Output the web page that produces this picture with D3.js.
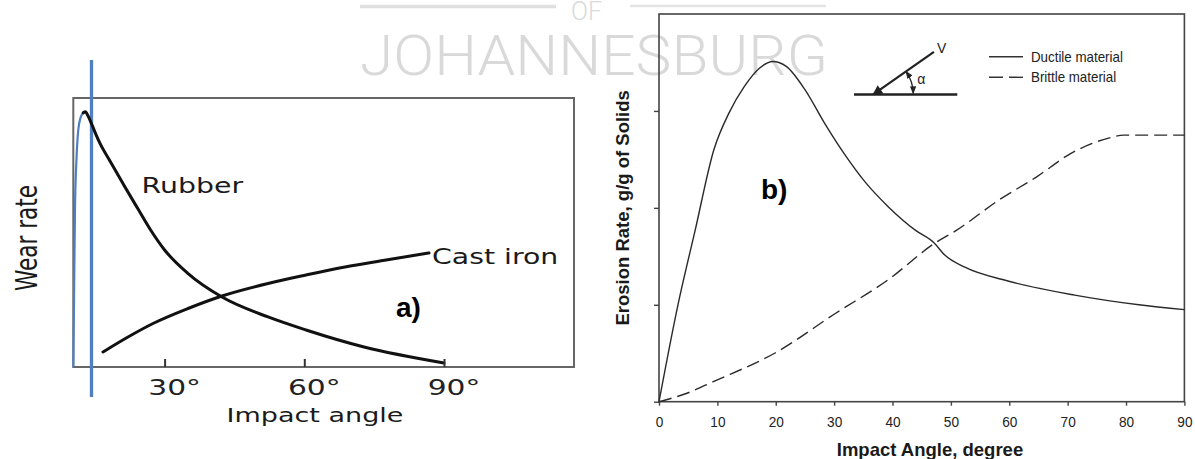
<!DOCTYPE html>
<html>
<head>
<meta charset="utf-8">
<script src="https://cdn.jsdelivr.net/npm/d3@7"></script>
<style>
  body { margin: 0; background: #fff; }
  svg { display: block; }
</style>
</head>
<body>
<svg id="chart" width="1195" height="459"></svg>
<script>
// ---------- Panel a: wear rate vs impact angle (arbitrary wear units, 0-100) ----------
const rubberAngle = [10.4, 10.55, 10.75, 11.1, 11.45, 12.0, 12.54, 13.0, 13.27, 13.76, 14.41, 15.27, 16.13, 18.27, 21.49, 24.3, 26.86, 30, 34.92, 42.33, 52.21, 60.37, 72.83, 90];
const rubberWear  = [0, 24.8, 58.3, 78.1, 88.0, 92.9, 94.5, 94.9, 94.3, 92.6, 90.0, 86.4, 83.1, 76.6, 66.9, 58.7, 51.3, 43.5, 34.9, 26.0, 18.6, 13.75, 7.43, 1.49];
const rubberPeakIndex = 7;
const castIronAngle = [16.77, 22.14, 27.51, 35.03, 42.33, 52.21, 60.37, 68.75, 76.91, 86.79];
const castIronWear  = [5.58, 11.15, 16.17, 21.75, 26.39, 31.04, 34.2, 37.2, 39.6, 42.4];
const angleTicksA = [30, 60, 90];
const markerAngle = 14.3;

// ---------- Panel b: erosion rate vs impact angle ----------
const ductileAngle = [0, 3.25, 6.2, 9.4, 12.0, 14.6, 17.2, 19.5, 21.8, 25.0, 28.3, 31.6, 35.4, 39.3, 43.9, 47.1, 49.0, 52.3, 60.1, 71.2, 82.2, 90];
const ductileRate  = [0, 1.0, 1.77, 2.60, 2.98, 3.25, 3.44, 3.51, 3.46, 3.22, 2.88, 2.57, 2.26, 2.01, 1.77, 1.64, 1.51, 1.39, 1.24, 1.10, 1.00, 0.95];
const brittleAngle = [0, 4.9, 9.4, 19.8, 30.2, 39.3, 47.1, 51.0, 58.2, 64.7, 70.5, 74.0, 77.0, 79.6, 90];
const brittleRate  = [0, 0.09, 0.21, 0.50, 0.91, 1.26, 1.63, 1.77, 2.08, 2.32, 2.56, 2.66, 2.72, 2.75, 2.75];
const angleTicksB = [0, 10, 20, 30, 40, 50, 60, 70, 80, 90];
const rateTicksB = [0, 1, 2, 3];
const legendLabels = ["Ductile material", "Brittle material"];

const svg = d3.select("#chart");
svg.append("rect").attr("width", 1195).attr("height", 459).attr("fill", "#fff");

// ---------- faint banner text behind the charts ----------
const wm = svg.append("g").attr("fill", "#d9d9d9")
  .attr("font-family", "Roboto, 'Open Sans', sans-serif").attr("font-weight", 300);
wm.append("text").attr("x", 360).attr("y", 75).attr("font-size", 56)
  .attr("textLength", 468).attr("lengthAdjust", "spacingAndGlyphs").text("JOHANNESBURG");
wm.append("text").attr("x", 571).attr("y", 19.5).attr("font-size", 25).text("OF");
wm.append("line").attr("x1", 360).attr("x2", 556).attr("y1", 6.5).attr("y2", 6.5)
  .attr("stroke", "#e0e0e0").attr("stroke-width", 3.5);
wm.append("line").attr("x1", 630).attr("x2", 826).attr("y1", 6).attr("y2", 6)
  .attr("stroke", "#e4e4e4").attr("stroke-width", 2.5);

// ================= Panel a =================
const xA = d3.scaleLinear().domain([30, 90]).range([164.6, 444]);
const yA = d3.scaleLinear().domain([0, 100]).range([367, 98]);
const frameA = { left: 73.3, right: 574, top: 98, bottom: 367 };

svg.append("rect")
  .attr("x", frameA.left).attr("y", frameA.top)
  .attr("width", frameA.right - frameA.left).attr("height", frameA.bottom - frameA.top)
  .attr("fill", "none").attr("stroke", "#666").attr("stroke-width", 2);

const lineA = d3.line().x(d => xA(d[0])).y(d => yA(d[1])).curve(d3.curveMonotoneX);
const rubber = rubberAngle.map((a, i) => [a, rubberWear[i]]);
const castIron = castIronAngle.map((a, i) => [a, castIronWear[i]]);

// vertical marker line
svg.append("line")
  .attr("x1", xA(markerAngle)).attr("x2", xA(markerAngle))
  .attr("y1", 60).attr("y2", 397)
  .attr("stroke", "#4f7fbf").attr("stroke-width", 3.3);

// rubber: rising branch in blue, falling branch in black
svg.append("path").datum(rubber.slice(0, rubberPeakIndex + 1))
  .attr("d", lineA).attr("fill", "none").attr("stroke", "#4f7fbf").attr("stroke-width", 2.2);
svg.append("path").datum(rubber.slice(rubberPeakIndex - 1))
  .attr("d", lineA).attr("fill", "none").attr("stroke", "#111").attr("stroke-width", 3)
  .attr("stroke-linecap", "round");
svg.append("path").datum(castIron)
  .attr("d", lineA).attr("fill", "none").attr("stroke", "#111").attr("stroke-width", 3)
  .attr("stroke-linecap", "round");

const axA = d3.axisBottom(xA).tickValues(angleTicksA).tickSize(-8).tickSizeOuter(0)
  .tickFormat(d => d + "°");
const gA = svg.append("g").attr("transform", `translate(0,${frameA.bottom})`).call(axA);
gA.select(".domain").remove();
gA.selectAll(".tick line").attr("stroke", "#333").attr("stroke-width", 2);
gA.selectAll(".tick text")
  .attr("y", 0).attr("dy", 0)
  .attr("font-family", "'DejaVu Sans', sans-serif").attr("font-size", 22).attr("fill", "#222")
  .attr("transform", "translate(9.5,28) scale(1.35,1)");

const drafting = "'DejaVu Sans', sans-serif";
function wideText(x, y, str, size, anchor) {
  svg.append("text")
    .attr("transform", `translate(${x},${y}) scale(1.35,1)`)
    .attr("text-anchor", anchor || "start")
    .attr("font-family", drafting).attr("font-size", size).attr("fill", "#1a1a1a")
    .text(str);
}
wideText(141.6, 192.5, "Rubber", 21);
wideText(432, 264, "Cast iron", 21);
wideText(315, 421.5, "Impact angle", 20, "middle");

svg.append("text")
  .attr("transform", "translate(37,238) rotate(-90) scale(0.72,1)")
  .attr("text-anchor", "middle")
  .attr("font-family", drafting).attr("font-size", 30).attr("fill", "#1a1a1a")
  .text("Wear rate");

svg.append("text").attr("x", 396).attr("y", 317)
  .attr("font-family", "'Liberation Sans', Arial, sans-serif").attr("font-weight", "bold")
  .attr("font-size", 28).attr("fill", "#000").text("a)");

// ================= Panel b =================
const xB = d3.scaleLinear().domain([0, 90]).range([659, 1184.4]);
const yB = d3.scaleLinear().domain([0, 4]).range([401.7, 14]);

const axB = d3.axisBottom(xB).tickValues(angleTicksB).tickSize(4).tickSizeOuter(0).tickPadding(10);
const gBx = svg.append("g").attr("transform", `translate(0,${yB(0)})`).call(axB);
gBx.select(".domain").remove();
gBx.selectAll(".tick line").attr("stroke", "#444").attr("stroke-width", 1.4);
gBx.selectAll(".tick text")
  .attr("font-family", "'Liberation Sans', Arial, sans-serif").attr("font-size", 15.5).attr("fill", "#222")
  .attr("transform", "scale(0.88,1)");

const ayB = d3.axisLeft(yB).tickValues(rateTicksB).tickSize(5).tickSizeOuter(0).tickFormat("");
const gBy = svg.append("g").attr("transform", `translate(${xB(0)},0)`).call(ayB);
gBy.select(".domain").remove();
gBy.selectAll(".tick line").attr("stroke", "#444").attr("stroke-width", 1.4);

svg.append("rect")
  .attr("x", xB(0)).attr("y", yB(4))
  .attr("width", xB(90) - xB(0)).attr("height", yB(0) - yB(4))
  .attr("fill", "none").attr("stroke", "#444").attr("stroke-width", 1.6);

const lineB = d3.line().x(d => xB(d[0])).y(d => yB(d[1])).curve(d3.curveMonotoneX);
const ductile = ductileAngle.map((a, i) => [a, ductileRate[i]]);
const brittle = brittleAngle.map((a, i) => [a, brittleRate[i]]);

svg.append("path").datum(ductile).attr("d", lineB)
  .attr("fill", "none").attr("stroke", "#2a2a2a").attr("stroke-width", 1.4);
svg.append("path").datum(brittle).attr("d", lineB)
  .attr("fill", "none").attr("stroke", "#2a2a2a").attr("stroke-width", 1.4)
  .attr("stroke-dasharray", "13,6");

// axis titles
svg.append("text").attr("x", 930).attr("y", 456).attr("text-anchor", "middle")
  .attr("font-family", "'Liberation Sans', Arial, sans-serif").attr("font-weight", "bold")
  .attr("font-size", 18.5).attr("fill", "#1a1a1a").text("Impact Angle, degree");
svg.append("text")
  .attr("transform", `translate(629,${(yB(0) + yB(4)) / 2}) rotate(-90)`)
  .attr("text-anchor", "middle")
  .attr("font-family", "'Liberation Sans', Arial, sans-serif").attr("font-weight", "bold")
  .attr("font-size", 18.5).attr("fill", "#1a1a1a").text("Erosion Rate, g/g of Solids");

svg.append("text").attr("x", 761).attr("y", 199)
  .attr("font-family", "'Liberation Sans', Arial, sans-serif").attr("font-weight", "bold")
  .attr("font-size", 28).attr("fill", "#000").text("b)");

// legend
const leg = svg.append("g").attr("transform", "translate(989,0)");
[56.7, 77.3].forEach((y, i) => {
  leg.append("line").attr("x1", 0).attr("x2", 34).attr("y1", y).attr("y2", y)
    .attr("stroke", "#333").attr("stroke-width", 1.4)
    .attr("stroke-dasharray", i === 1 ? "14,6" : null);
  leg.append("text").attr("x", 42).attr("y", y + 5)
    .attr("font-family", "'Liberation Sans', Arial, sans-serif").attr("font-size", 14.5)
    .attr("fill", "#222").attr("transform", `translate(${42 * 0.08},0) scale(0.92,1)`)
    .text(legendLabels[i]);
});

// inset: particle velocity V striking a surface at angle alpha
const defs = svg.append("defs");
defs.append("marker").attr("id", "headBig").attr("viewBox", "0 0 10 10")
  .attr("refX", 9).attr("refY", 5).attr("markerWidth", 6).attr("markerHeight", 4.5)
  .attr("markerUnits", "strokeWidth").attr("orient", "auto")
  .append("path").attr("d", "M0,0 L10,5 L0,10 Z").attr("fill", "#222");
defs.append("marker").attr("id", "headSmall").attr("viewBox", "0 0 10 10")
  .attr("refX", 9).attr("refY", 5).attr("markerWidth", 6).attr("markerHeight", 6)
  .attr("markerUnits", "strokeWidth").attr("orient", "auto-start-reverse")
  .append("path").attr("d", "M0,1 L10,5 L0,9 Z").attr("fill", "#222");

const surfaceY = yB(3.17);
const tip = [xB(36.7), surfaceY];
const tail = [xB(47.1), yB(3.61)];
svg.append("line").attr("x1", xB(33.4)).attr("x2", xB(51.1))
  .attr("y1", surfaceY).attr("y2", surfaceY)
  .attr("stroke", "#222").attr("stroke-width", 2.4);
svg.append("line").attr("x1", tail[0]).attr("y1", tail[1]).attr("x2", tip[0]).attr("y2", tip[1])
  .attr("stroke", "#222").attr("stroke-width", 2.2).attr("marker-end", "url(#headBig)");

const theta = Math.atan2(tip[1] - tail[1], tail[0] - tip[0]);
const r = 40;
const arcStart = [tip[0] + r * Math.cos(theta), tip[1] - r * Math.sin(theta)];
const arcEnd = [tip[0] + r, tip[1]];
svg.append("path")
  .attr("d", `M${arcStart[0]},${arcStart[1]} A${r},${r} 0 0 1 ${arcEnd[0]},${arcEnd[1] - 1}`)
  .attr("fill", "none").attr("stroke", "#222").attr("stroke-width", 1.3)
  .attr("marker-start", "url(#headSmall)").attr("marker-end", "url(#headSmall)");

svg.append("text").attr("x", tail[0] + 3).attr("y", tail[1] + 1)
  .attr("font-family", "'Liberation Sans', Arial, sans-serif").attr("font-size", 14)
  .attr("fill", "#222").text("V");
svg.append("text").attr("x", tip[0] + r + 4).attr("y", tip[1] - 10)
  .attr("font-family", "'Liberation Sans', Arial, sans-serif").attr("font-size", 14)
  .attr("fill", "#222").text("α");
</script>
</body>
</html>
